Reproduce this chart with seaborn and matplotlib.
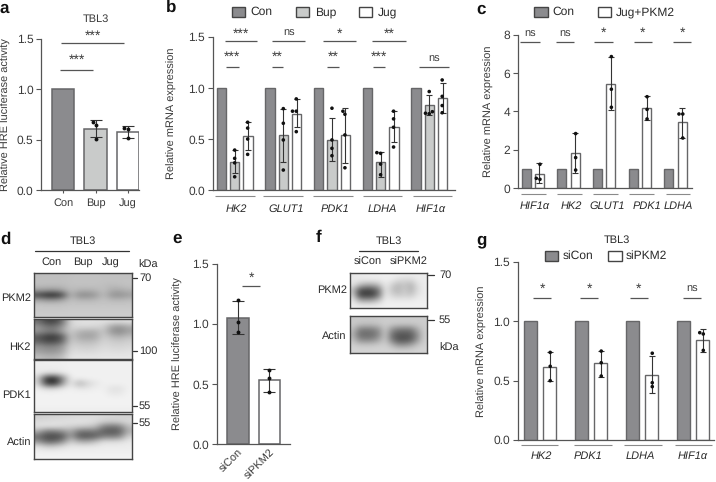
import numpy as np
import pandas as pd
import seaborn as sns
import matplotlib.pyplot as plt
from matplotlib.patches import Rectangle

# panel a
a_groups = ["Con", "Bup", "Jug"]
a_means = [1.0, 0.607, 0.574]
a_lo = [1.0, 0.524, 0.514]
a_hi = [1.0, 0.696, 0.64]
a_points = {"Bup": [0.673, 0.643, 0.508], "Jug": [0.62, 0.603, 0.514]}

# panel b
b_genes = ["HK2", "GLUT1", "PDK1", "LDHA", "HIF1α"]
b_groups = ["Con", "Bup", "Jug"]
b_con = [1.0, 1.0, 1.0, 1.0, 1.0]
b_bup = [0.275, 0.54, 0.497, 0.275, 0.833]
b_bup_lo = [0.167, 0.28, 0.29, 0.134, 0.74]
b_bup_hi = [0.40, 0.80, 0.706, 0.38, 0.93]
b_jug = [0.533, 0.75, 0.54, 0.625, 0.90]
b_jug_lo = [0.395, 0.624, 0.27, 0.47, 0.755]
b_jug_hi = [0.673, 0.895, 0.804, 0.778, 1.05]
b_bup_pts = [[0.395, 0.314, 0.27, 0.134], [0.80, 0.657, 0.494, 0.20], [0.804, 0.494, 0.412, 0.34],
             [0.37, 0.363, 0.258, 0.154], [0.967, 0.77, 0.755, 0.75]]
b_jug_pts = [[0.667, 0.61, 0.503, 0.353], [0.895, 0.775, 0.775, 0.575], [0.775, 0.745, 0.543, 0.222],
             [0.775, 0.70, 0.618, 0.425], [1.08, 0.92, 0.83, 0.76]]

# panel c
c_genes = ["HIF1α", "HK2", "GLUT1", "PDK1", "LDHA"]
c_groups = ["Con", "Jug+PKM2"]
c_con = [1.0, 1.0, 1.0, 1.0, 1.0]
c_jug = [0.73, 1.82, 5.42, 4.17, 3.44]
c_jug_lo = [0.26, 0.82, 4.08, 3.56, 2.6]
c_jug_hi = [1.3, 2.9, 6.86, 4.8, 4.17]
c_jug_pts = [[1.25, 0.52, 0.47], [2.85, 1.6, 0.95], [6.86, 5.16, 4.22], [4.77, 4.11, 3.61], [3.87, 3.87, 2.62]]

# panel e
e_groups = ["siCon", "siPKM2"]
e_means = [1.05, 0.53]
e_lo = [0.916, 0.437]
e_hi = [1.187, 0.628]
e_points = {"siCon": [1.2, 1.016, 0.935], "siPKM2": [0.614, 0.553, 0.437]}

# panel g
g_genes = ["HK2", "PDK1", "LDHA", "HIF1α"]
g_groups = ["siCon", "siPKM2"]
g_con = [1.0, 1.0, 1.0, 1.0]
g_pkm = [0.617, 0.645, 0.55, 0.841]
g_pkm_lo = [0.496, 0.533, 0.398, 0.737]
g_pkm_hi = [0.743, 0.751, 0.705, 0.93]
g_pkm_pts = [[0.737, 0.62, 0.499], [0.748, 0.65, 0.538], [0.73, 0.482, 0.449], [0.903, 0.892, 0.754]]

# blot gray levels
d_pkm2 = [
    [188, 190, 190, 190, 192, 194, 194, 194, 192, 192, 192, 192],
    [192, 192, 192, 192, 194, 194, 194, 194, 194, 194, 194, 194],
    [190, 188, 188, 188, 192, 194, 194, 194, 190, 186, 190, 194],
    [160, 155, 150, 165, 190, 178, 176, 180, 192, 172, 170, 180],
    [70, 40, 35, 70, 184, 140, 138, 150, 190, 148, 143, 158],
    [165, 150, 148, 165, 192, 182, 180, 184, 194, 184, 182, 188],
    [198, 196, 196, 196, 198, 198, 198, 198, 198, 198, 198, 198],
    [200, 200, 200, 200, 202, 202, 202, 202, 202, 202, 202, 202],
    [204, 204, 204, 204, 204, 204, 204, 204, 204, 204, 204, 204],
]
d_hk2 = [
    [110, 70, 65, 110, 215, 222, 224, 224, 224, 222, 222, 224],
    [150, 120, 115, 150, 214, 218, 218, 214, 208, 165, 150, 172],
    [150, 130, 125, 165, 205, 180, 172, 175, 200, 150, 135, 160],
    [90, 60, 55, 90, 200, 168, 160, 165, 206, 185, 175, 190],
    [100, 75, 75, 105, 204, 190, 186, 190, 212, 205, 200, 208],
    [150, 135, 135, 155, 212, 208, 204, 208, 218, 214, 212, 216],
    [160, 150, 150, 165, 220, 218, 216, 218, 224, 222, 220, 224],
    [190, 180, 180, 192, 228, 228, 228, 228, 230, 230, 230, 230],
]
d_pdk1 = [
    [236, 238, 238, 238, 240, 240, 240, 240, 240, 240, 240, 240],
    [236, 236, 236, 238, 240, 240, 240, 240, 240, 240, 240, 240],
    [234, 228, 226, 232, 240, 240, 240, 240, 240, 240, 240, 240],
    [210, 55, 35, 130, 238, 238, 240, 240, 240, 240, 240, 240],
    [215, 65, 45, 150, 238, 175, 210, 228, 240, 240, 240, 240],
    [238, 222, 222, 234, 240, 232, 232, 238, 240, 224, 224, 240],
    [242, 242, 242, 242, 242, 242, 242, 242, 242, 232, 232, 242],
    [242, 242, 242, 242, 242, 242, 242, 242, 242, 242, 242, 242],
    [242, 242, 242, 242, 242, 242, 242, 242, 242, 242, 242, 242],
    [238, 238, 238, 238, 238, 238, 238, 238, 238, 238, 238, 238],
]
d_actin = [
    [205, 208, 210, 212, 214, 216, 218, 218, 216, 214, 212, 210],
    [218, 220, 222, 224, 226, 228, 226, 222, 210, 205, 210, 218],
    [225, 225, 225, 218, 210, 205, 200, 190, 130, 115, 125, 190],
    [170, 120, 120, 140, 170, 115, 110, 120, 95, 85, 95, 175],
    [110, 75, 70, 85, 165, 90, 85, 95, 130, 125, 135, 210],
    [150, 105, 105, 140, 208, 175, 170, 190, 222, 220, 222, 232],
    [225, 205, 205, 222, 232, 232, 232, 234, 236, 236, 236, 236],
    [238, 238, 238, 238, 238, 238, 238, 238, 238, 238, 238, 238],
    [242, 242, 242, 242, 242, 242, 242, 242, 242, 242, 242, 242],
]
f_pkm2 = [
    [230, 232, 234, 236, 236, 238, 238, 238, 238, 236, 236, 234],
    [232, 234, 234, 236, 236, 238, 236, 222, 216, 218, 234, 236],
    [226, 190, 170, 170, 190, 234, 210, 185, 200, 178, 222, 236],
    [190, 85, 70, 75, 120, 232, 198, 180, 205, 178, 218, 236],
    [205, 70, 60, 65, 120, 234, 214, 200, 208, 200, 228, 236],
    [232, 170, 160, 165, 195, 238, 234, 234, 234, 234, 238, 238],
    [238, 236, 236, 236, 238, 240, 240, 240, 240, 240, 240, 240],
]
f_actin = [
    [200, 200, 200, 200, 202, 204, 204, 204, 204, 204, 204, 204],
    [202, 196, 194, 194, 198, 204, 202, 200, 200, 200, 202, 204],
    [190, 130, 125, 128, 150, 202, 150, 125, 122, 125, 170, 204],
    [175, 110, 105, 108, 135, 200, 115, 85, 85, 90, 140, 204],
    [192, 140, 135, 138, 165, 202, 125, 85, 80, 95, 150, 206],
    [208, 200, 198, 200, 204, 208, 185, 150, 150, 165, 195, 208],
    [212, 212, 212, 212, 212, 212, 212, 210, 210, 210, 212, 212],
]

W, H = 716, 482
TEXT = "#3a3a3a"
AXIS = "#555555"
EDGE = "#666668"
FILLS = {"dark": "#8b8b8e", "mid": "#c9cbca", "white": "#ffffff"}

sns.set_theme(style="ticks", context="paper")
plt.rcParams["font.family"] = ["Liberation Sans", "DejaVu Sans"]
plt.rcParams["font.size"] = 8
plt.rcParams["text.hinting"] = "no_hinting"
plt.rcParams["text.hinting_factor"] = 1

fig = plt.figure(figsize=(W / 100, H / 100), dpi=100)

# overlay in pixel coordinates for labels, legends and blot annotations
over = fig.add_axes([0, 0, 1, 1], zorder=0)
over.set_xlim(0, W)
over.set_ylim(H, 0)
over.axis("off")


def axes_px(left, right, top, bottom):
    return fig.add_axes([left / W, 1 - bottom / H, (right - left) / W, (bottom - top) / H], zorder=1)


def style_axes(ax, ticks, ylabel, label_x, left, right, keep_xticks=False):
    sns.despine(ax=ax)
    ax.set_yticks(ticks)
    ax.set_xlabel("")
    ax.set_ylabel(ylabel, fontsize=7.95, color=TEXT, va="center")
    ax.yaxis.set_label_coords((label_x - left) / (right - left), 0.5)
    ax.tick_params(axis="y", length=3.5, width=0.8, color=AXIS, labelsize=8.4, labelcolor=TEXT, pad=2)
    if keep_xticks:
        ax.tick_params(axis="x", length=2.5, width=0.8, color=AXIS, labelsize=8.2, labelcolor=TEXT, pad=3)
    else:
        ax.tick_params(axis="x", length=0, labelbottom=False)
    for side in ["left", "bottom"]:
        ax.spines[side].set_color(AXIS)
        ax.spines[side].set_linewidth(0.9)
    ax.patch.set_alpha(0)


def sig(ax, x0, x1, y, label, dy):
    ax.plot([x0, x1], [y, y], color="#555555", lw=0.9, clip_on=False, solid_capstyle="butt")
    size = 10 if "*" in label else 8.2
    ax.text((x0 + x1) / 2, y + dy, label, ha="center", va="center", fontsize=size, color=TEXT, clip_on=False)


def gene_axis(ax, spans, line_y, centers, names, text_y):
    for (x0, x1) in spans:
        ax.plot([x0, x1], [line_y, line_y], color="#8a8a8a", lw=0.8, clip_on=False, solid_capstyle="butt")
    for x, name in zip(centers, names):
        ax.text(x, text_y, name, ha="center", va="center", style="italic", fontsize=8.2, color="#2a2a2a", clip_on=False)


def grouped_bars(ax, genes, groups, series, fills, points, lows, highs, width, gap, capsize):
    rows = []
    for group, values in zip(groups, series):
        for gene, value in zip(genes, values):
            rows.append({"gene": gene, "group": group, "value": value})
    bars = pd.DataFrame(rows)
    sns.barplot(data=bars, x="gene", y="value", hue="group", order=genes, hue_order=groups, palette=fills,
                width=width, gap=gap, edgecolor=EDGE, linewidth=1.0, errorbar=None, legend=False, ax=ax)
    rows = []
    for group, per_gene in points.items():
        for gene, values in zip(genes, per_gene):
            for value in values:
                rows.append({"gene": gene, "group": group, "value": value})
    pts = pd.DataFrame(rows)
    for group in lows:
        idx = groups.index(group)
        xs = [p.get_x() + p.get_width() / 2 for p in ax.containers[idx]]
        means = np.array(series[idx])
        ax.errorbar(xs, means, yerr=[means - np.array(lows[group]), np.array(highs[group]) - means], fmt="none",
                    ecolor="#333333", elinewidth=0.8, capsize=capsize, capthick=0.8, zorder=3)
    sns.swarmplot(data=pts, x="gene", y="value", hue="group", order=genes, hue_order=groups,
                  palette=dict.fromkeys(groups, "#111111"), dodge=True, size=2.6, legend=False, ax=ax, zorder=4)


def simple_bars(ax, groups, means, fills, points, lo, hi):
    df = pd.DataFrame({"group": groups, "value": means})
    sns.barplot(data=df, x="group", y="value", hue="group", order=groups, hue_order=groups, palette=fills,
                width=0.68, edgecolor=EDGE, linewidth=1.1, errorbar=None, legend=False, ax=ax)
    xs = np.arange(len(groups))
    means = np.array(means)
    keep = np.array(hi) > np.array(lo)
    ax.errorbar(xs[keep], means[keep], yerr=[(means - np.array(lo))[keep], (np.array(hi) - means)[keep]], fmt="none",
                ecolor="#333333", elinewidth=0.8, capsize=4, capthick=0.8, zorder=3)
    rows = [{"group": g, "value": v} for g, vs in points.items() for v in vs]
    sns.swarmplot(data=pd.DataFrame(rows), x="group", y="value", order=groups, color="#111111", size=2.8, ax=ax, zorder=4)


# a
ax = axes_px(41, 139, 38.7, 190.5)
simple_bars(ax, a_groups, a_means, dict(zip(a_groups, [FILLS["dark"], FILLS["mid"], FILLS["white"]])), a_points, a_lo, a_hi)
ax.set_ylim(0, 1.5)
ax.set_xlim(-0.68, 2.34)
style_axes(ax, [0, 0.5, 1.0, 1.5], "Relative HRE luciferase activity", 6, 41, 139, keep_xticks=True)
sig(ax, -0.06, 1.877, 1.46, "***", 0.07)
sig(ax, -0.09, 0.92, 1.194, "***", 0.09)
over.text(95.7, 18.7, "TBL3", ha="center", va="center", fontsize=8.2, color=TEXT)

# b
ax = axes_px(212.7, 455, 37, 190.5)
grouped_bars(ax, b_genes, b_groups, [b_con, b_bup, b_jug],
             dict(zip(b_groups, [FILLS["dark"], FILLS["mid"], FILLS["white"]])),
             {"Bup": b_bup_pts, "Jug": b_jug_pts}, {"Bup": b_bup_lo, "Jug": b_jug_lo}, {"Bup": b_bup_hi, "Jug": b_jug_hi},
             0.82, 0.3, 2.5)
ax.set_ylim(0, 1.5)
ax.set_xlim(-0.452, 4.53)
style_axes(ax, [0, 0.5, 1.0, 1.5], "Relative mRNA expression", 171.7, 212.7, 455)
for x0, x1, label in [(-0.205, 0.452, "***"), (0.767, 1.452, "ns"), (1.822, 2.493, "*"), (2.829, 3.521, "**")]:
    sig(ax, x0, x1, 1.46, label, 0.07 if "*" in label else 0.08)
for x0, x1, label in [(-0.178, 0.082, "***"), (0.767, 1.0, "**"), (1.89, 2.151, "**"), (2.849, 3.096, "***")]:
    sig(ax, x0, x1, 1.21, label, 0.09)
sig(ax, 3.781, 4.411, 1.21, "ns", 0.07)
gene_axis(ax, [(-0.41, 0.41), (0.59, 1.41), (1.61, 2.43), (2.63, 3.45), (3.66, 4.47)], -0.049,
          [0.04, 1.055, 2.06, 3.03, 4.04], b_genes, -0.178)

# c
ax = axes_px(517.7, 691.7, 34.7, 188.3)
grouped_bars(ax, c_genes, c_groups, [c_con, c_jug], dict(zip(c_groups, [FILLS["dark"], FILLS["white"]])),
             {"Jug+PKM2": c_jug_pts}, {"Jug+PKM2": c_jug_lo}, {"Jug+PKM2": c_jug_hi}, 0.747, 0.32, 2.5)
ax.set_ylim(0, 8)
ax.set_xlim(-0.423, 4.45)
style_axes(ax, [0, 2, 4, 6, 8], "Relative mRNA expression", 489, 517.7, 691.7)
for x0, x1, label in [(-0.36, 0.2, "ns"), (0.64, 1.154, "ns"), (1.724, 2.257, "*"), (2.836, 3.332, "*"), (3.939, 4.425, "*")]:
    sig(ax, x0, x1, 7.64, label, 0.42)
gene_axis(ax, [(-0.33, 0.37), (0.687, 1.388), (1.696, 2.379), (2.706, 3.397), (3.724, 4.407)], -0.31,
          [0.042, 1.07, 2.089, 3.19, 4.08], c_genes, -0.906)

# e
ax = axes_px(216.7, 290, 263.7, 444.3)
simple_bars(ax, e_groups, e_means, dict(zip(e_groups, [FILLS["dark"], FILLS["white"]])), e_points, e_lo, e_hi)
ax.set_ylim(0, 1.5)
ax.set_xlim(-0.68, 1.66)
style_axes(ax, [0, 0.5, 1.0, 1.5], "Relative HRE luciferase activity", 177.7, 216.7, 290, keep_xticks=True)
ax.tick_params(axis="x", length=0, pad=2)
plt.setp(ax.get_xticklabels(), rotation=45, ha="right", rotation_mode="anchor")
sig(ax, 0.128, 0.703, 1.312, "*", 0.07)

# g
ax = axes_px(517.7, 714, 261.7, 440)
grouped_bars(ax, g_genes, g_groups, [g_con, g_pkm], dict(zip(g_groups, [FILLS["dark"], FILLS["white"]])),
             {"siPKM2": g_pkm_pts}, {"siPKM2": g_pkm_lo}, {"siPKM2": g_pkm_hi}, 0.758, 0.34, 2.5)
ax.set_ylim(0, 1.5)
ax.set_xlim(-0.437, 3.41)
style_axes(ax, [0, 0.5, 1.0, 1.5], "Relative mRNA expression", 481.7, 517.7, 714)
for x0, x1, label in [(-0.13, 0.21, "*"), (0.79, 1.137, "*"), (1.765, 2.111, "*"), (2.81, 3.15, "ns")]:
    sig(ax, x0, x1, 1.197, label, 0.07)
gene_axis(ax, [(-0.373, 0.36), (0.667, 1.405), (1.654, 2.386), (2.647, 3.366)], -0.042,
          [0.033, 0.948, 1.96, 2.987], g_genes, -0.134)


# blots
def blot(levels, left, right, top, bottom):
    bax = axes_px(left, right, top, bottom)
    bax.imshow(np.array(levels), cmap="gray", vmin=0, vmax=255, aspect="auto", interpolation="bicubic")
    bax.set_xticks([])
    bax.set_yticks([])
    for spine in bax.spines.values():
        spine.set_color("#444444")
        spine.set_linewidth(1.0)


blot(d_pkm2, 34.3, 131.7, 272.7, 316.7)
blot(d_hk2, 34.3, 131.7, 319.3, 359)
blot(d_pdk1, 34.3, 131.7, 360.3, 411.7)
blot(d_actin, 34.3, 131.7, 414, 459)
blot(f_pkm2, 350, 426.7, 272.7, 308.3)
blot(f_actin, 350, 426.7, 315.7, 352.7)


def put(x, y, label, ha="left", **kw):
    kw.setdefault("fontsize", 8.2)
    kw.setdefault("color", "#2a2a2a")
    over.text(x, y, label, ha=ha, va="center", **kw)


for name, y in [("PKM2", 298), ("HK2", 346.7), ("PDK1", 395), ("Actin", 443)]:
    put(31, y, name, ha="right")
put(83, 240.7, "TBL3", ha="center")
over.plot([35, 129], [250.7, 250.7], color="#333333", lw=0.9)
for name, x in [("Con", 52), ("Bup", 83), ("Jug", 111)]:
    put(x, 262.3, name, ha="center")
put(138, 265, "kDa")
for name, y in [("70", 277.7), ("100", 350.7), ("55", 405.7), ("55", 423.3)]:
    over.plot([132.5, 137], [y, y], color="#333333", lw=0.9)
    put(139, y, name)

for name, y in [("PKM2", 290), ("Actin", 337)]:
    put(346.7, y, name, ha="right")
put(389, 240.7, "TBL3", ha="center")
over.plot([359, 418], [250.7, 250.7], color="#333333", lw=0.9)
put(368, 262, "siCon", ha="center")
put(409, 262, "siPKM2", ha="center")
for name, y in [("70", 275.3), ("55", 319.7)]:
    over.plot([427.7, 434], [y, y], color="#333333", lw=0.9)
    put(439, y, name)
put(439, 347.7, "kDa")


# legends
def legend_item(x, top, bottom, fill, label, text_x):
    over.add_patch(Rectangle((x, top), 13.3, bottom - top, facecolor=fill, edgecolor="#444444", lw=1.0))
    put(text_x, (top + bottom) / 2, label, fontsize=8.3)


legend_item(231.7, 7, 17.3, FILLS["dark"], "Con", 250)
legend_item(296, 7, 17.3, FILLS["mid"], "Bup", 314.7)
legend_item(359, 7, 17.3, FILLS["white"], "Jug", 378)
legend_item(534.3, 6.7, 17.3, FILLS["dark"], "Con", 552)
legend_item(597.7, 6.7, 17.3, FILLS["white"], "Jug+PKM2", 615.7)
legend_item(545, 250.7, 261, FILLS["dark"], "siCon", 563)
legend_item(608.3, 250.7, 261, FILLS["white"], "siPKM2", 626)
put(617, 239.7, "TBL3", ha="center")

# panel letters
for letter, x, y in [("a", 0, 8), ("b", 166, 7), ("c", 476, 9), ("d", 0, 239), ("e", 172, 238), ("f", 316, 238), ("g", 476, 240)]:
    put(x, y, letter, fontsize=12, fontweight="bold", color="#111111")

fig.savefig("out.png", dpi=100)
plt.close(fig)
